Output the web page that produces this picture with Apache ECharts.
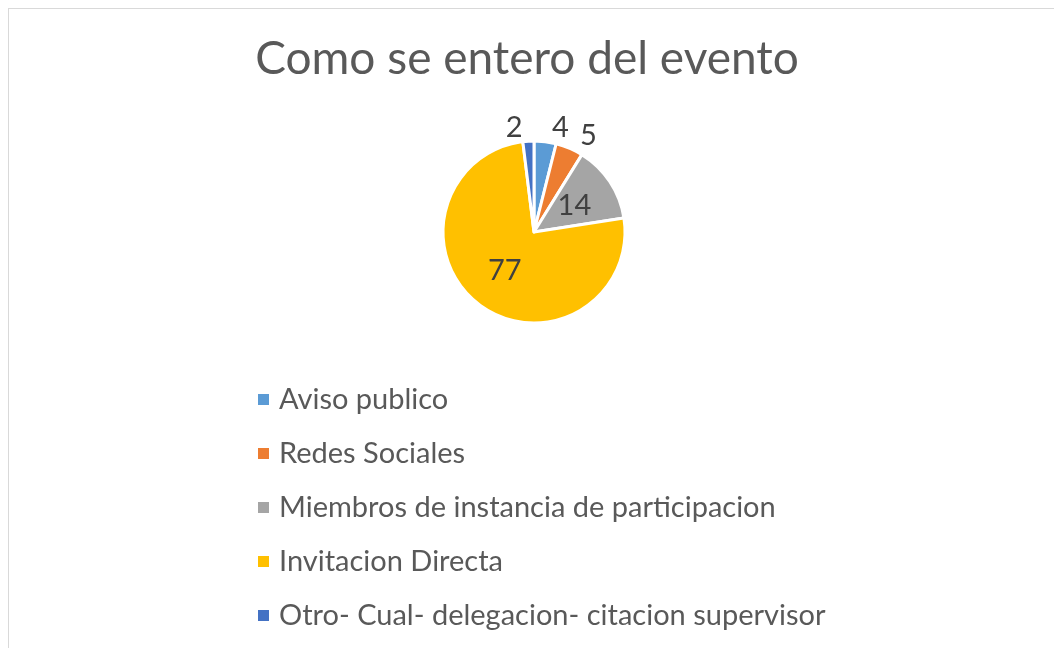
<!DOCTYPE html>
<html>
<head>
<meta charset="utf-8">
<script src="https://cdn.jsdelivr.net/npm/echarts@6/dist/echarts.min.js"></script>
<style>
  html, body { margin: 0; padding: 0; background: #fff; }
  #frame { position: absolute; left: 8px; top: 8px; width: 1060px; height: 660px; border: 1px solid #d9d9d9; }
  #chart { position: absolute; left: 0; top: 0; width: 1054px; height: 648px; }
</style>
</head>
<body>
<div id="frame"></div>
<div id="chart"></div>
<script>
// Como se entero del evento
const categories = [
    'Aviso publico',
    'Redes Sociales',
    'Miembros de instancia de participacion',
    'Invitacion Directa',
    'Otro- Cual- delegacion- citacion supervisor'
];
const values = [4, 5, 14, 77, 2];
const colors = ['#5B9BD5', '#ED7D31', '#A5A5A5', '#FFC000', '#4472C4'];
const labelPlaces = ['outside', 'outside', 'inside', 'inside', 'outside'];

const chart = echarts.init(document.getElementById('chart'));
const font = 'Lato, "Open Sans", sans-serif';

chart.setOption({
    animation: false,
    title: {
        text: 'Como se entero del evento',
        left: 'center',
        top: 31,
        textStyle: { fontFamily: font, fontSize: 46, fontWeight: 'normal', color: '#595959' }
    },
    legend: {
        orient: 'vertical',
        left: 251,
        top: 380,
        itemWidth: 13,
        itemHeight: 13,
        itemGap: 25,
        icon: 'rect',
        textStyle: { fontFamily: font, fontSize: 29, color: '#595959', padding: [0, 0, 0, 4] },
        data: categories
    },
    series: [{
        type: 'pie',
        center: [534, 232],
        radius: 91,
        startAngle: 90,
        clockwise: true,
        avoidLabelOverlap: false,
        itemStyle: { borderColor: '#fff', borderWidth: 3 },
        label: { fontFamily: font, fontSize: 29, color: '#404040', formatter: '{c}' },
        labelLine: { show: false, length: 14, length2: 0 },
        data: categories.map((name, i) => ({
            name: name,
            value: values[i],
            itemStyle: { color: colors[i] },
            label: { position: labelPlaces[i] }
        }))
    }]
});
</script>
</body>
</html>
